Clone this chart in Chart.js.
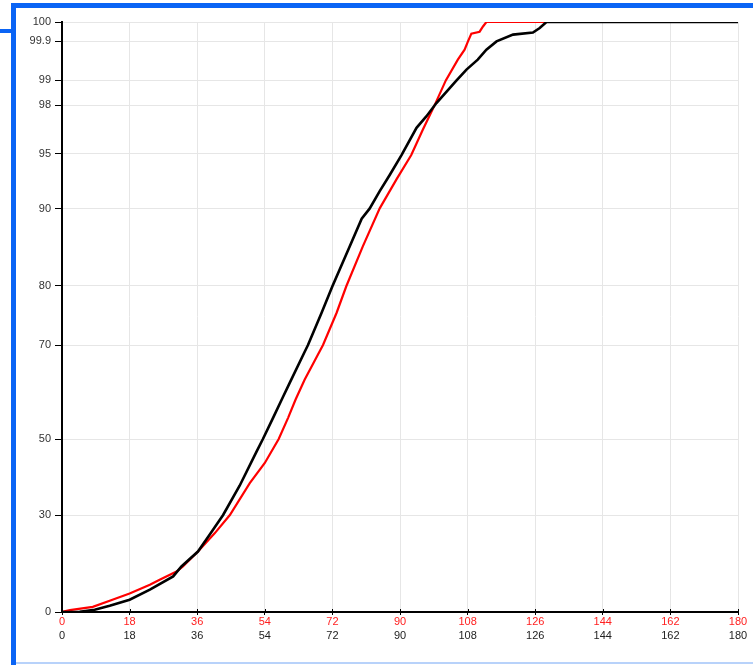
<!DOCTYPE html>
<html>
<head>
<meta charset="utf-8">
<script src="https://cdn.jsdelivr.net/npm/chart.js@4/dist/chart.umd.min.js"></script>
<style>
  html, body { margin: 0; padding: 0; background: #fff; }
  #wrap { position: relative; width: 753px; height: 665px; overflow: hidden; }
  #chart { position: absolute; left: 0; top: 0; }
  .frame { position: absolute; background: #0a64f5; }
</style>
</head>
<body>
<div id="wrap">
  <canvas id="chart" width="753" height="665"></canvas>
  <div class="frame" style="left:11px;top:3px;width:5px;height:662px;"></div>
  <div class="frame" style="left:11px;top:3px;width:742px;height:5px;"></div>
  <div class="frame" style="left:0;top:29px;width:11px;height:4px;"></div>
  <div class="frame" style="left:16px;top:662px;width:737px;height:2px;background:#b8d2fa;"></div>
</div>
<script>
// ---- data (cumulative percent vs x) ----
const xTicks = [0, 18, 36, 54, 72, 90, 108, 126, 144, 162, 180];
const yTicks = [0, 30, 50, 70, 80, 90, 95, 98, 99, 99.9, 100];

const blackX = [0, 4.7, 8.7, 12.7, 18.0, 23.4, 29.6, 31.8, 36.2, 39.3, 42.9, 47.3, 51.8, 53.5, 56.2, 58.8, 60.6, 64.4, 65.5, 69.1, 72.0, 76.6, 79.8, 81.9, 84.6, 87.3, 90.4, 94.4, 97.0, 99.7, 105.0, 107.7, 110.7, 113.0, 115.7, 120.1, 125.4, 127.2, 129.0, 180];
const blackY = [0, 0.05, 0.7, 1.9, 3.8, 6.9, 11.0, 14.1, 18.7, 23.9, 30, 37.7, 46.7, 50, 54.5, 58.9, 61.9, 68.2, 70, 75.4, 79.9, 85.1, 88.7, 90, 91.6, 93.1, 94.9, 96.6, 97.3, 98.08, 98.99, 99.25, 99.48, 99.71, 99.9, 99.935, 99.946, 99.969, 100, 100];

const redX = [0, 2.1, 8.2, 12.7, 18.0, 23.4, 26.0, 30.5, 32.2, 36.2, 40.7, 44.7, 50.0, 54.0, 57.7, 60.2, 62.2, 64.6, 69.5, 73.1, 75.7, 80.1, 84.6, 89.1, 93.0, 96.1, 99.2, 102.2, 105.4, 107.2, 108.1, 109.0, 111.2, 112.1, 113.0, 180];
const redY = [0, 0.6, 1.6, 3.5, 5.7, 8.4, 10.0, 12.5, 14.1, 18.7, 24.4, 30, 38.4, 43.7, 50, 54.5, 58.4, 62.6, 70, 75.4, 79.9, 85.1, 90.03, 92.7, 94.9, 96.5, 97.98, 99.0, 99.48, 99.71, 99.9, 99.94, 99.95, 99.977, 100, 100];

// ---- probability-style y scale: piecewise between the tick values ----
const scaleFrac = [0, 0.1644, 0.2932, 0.4525, 0.5531, 0.6836, 0.7763, 0.8593, 0.9010, 0.9671, 1];

function toFrac(v) {
    if (v <= yTicks[0]) return 0;
    for (let i = 1; i < yTicks.length; i++) {
        if (v <= yTicks[i]) {
            const t = (v - yTicks[i - 1]) / (yTicks[i] - yTicks[i - 1]);
            return scaleFrac[i - 1] + t * (scaleFrac[i] - scaleFrac[i - 1]);
        }
    }
    return 1;
}
function fromFrac(f) {
    for (let i = 1; i < scaleFrac.length; i++) {
        if (f <= scaleFrac[i]) {
            const t = (f - scaleFrac[i - 1]) / (scaleFrac[i] - scaleFrac[i - 1]);
            return yTicks[i - 1] + t * (yTicks[i] - yTicks[i - 1]);
        }
    }
    return 100;
}

class PiecewiseScale extends Chart.LinearScale {
    getPixelForValue(v) { return v === null ? NaN : this.getPixelForDecimal(toFrac(v)); }
    getValueForPixel(p) { return fromFrac(this.getDecimalForPixel(p)); }
}
PiecewiseScale.id = 'piecewise';
PiecewiseScale.defaults = Chart.LinearScale.defaults;
Chart.register(PiecewiseScale);

// x ticks cross the axis line: draw the short upper half too
const crossTicks = {
    id: 'crossTicks',
    afterDraw(chart) {
        const sx = chart.scales.x, ctx = chart.ctx, yb = chart.chartArea.bottom;
        ctx.save();
        ctx.strokeStyle = '#000';
        ctx.lineWidth = 1;
        sx.ticks.forEach(t => {
            const px = Math.round(sx.getPixelForValue(t.value)) + 0.5;
            ctx.beginPath();
            ctx.moveTo(px, yb - 3);
            ctx.lineTo(px, yb);
            ctx.stroke();
        });
        ctx.restore();
    }
};

const toPts = (xs, ys) => xs.map((x, i) => ({ x: x, y: ys[i] }));
const gridGrey = '#e6e6e6';
const FONT = 'Liberation Sans, Arial, Helvetica, sans-serif';

new Chart(document.getElementById('chart').getContext('2d'), {
    type: 'line',
    data: {
        datasets: [
            {
                data: toPts(blackX, blackY),
                borderColor: '#000',
                borderWidth: 2.6,
                pointRadius: 0,
                tension: 0
            },
            {
                data: toPts(redX, redY),
                borderColor: '#ff0000',
                borderWidth: 2.2,
                pointRadius: 0,
                tension: 0
            }
        ]
    },
    options: {
        responsive: false,
        animation: false,
        layout: { padding: { left: 0, top: 22, right: 15, bottom: 22 } },
        plugins: { legend: { display: false }, tooltip: { enabled: false } },
        scales: {
            x: {
                type: 'linear',
                position: 'bottom',
                min: 0, max: 180,
                afterBuildTicks: s => { s.ticks = xTicks.map(v => ({ value: v })); },
                afterFit: s => { s.height = 16; },
                grid: { color: gridGrey, tickColor: '#000', tickLength: 3, lineWidth: 1 },
                border: { color: '#000', width: 2 },
                ticks: { color: '#ff2020', padding: 0, maxRotation: 0, autoSkip: false, font: { family: FONT, size: 11 } }
            },
            x2: {
                type: 'linear',
                position: 'bottom',
                min: 0, max: 180,
                afterBuildTicks: s => { s.ticks = xTicks.map(v => ({ value: v })); },
                afterFit: s => { s.height = 15; },
                grid: { display: false, drawTicks: false },
                border: { display: false },
                ticks: { color: '#222', padding: 1, maxRotation: 0, autoSkip: false, font: { family: FONT, size: 11 } }
            },
            y: {
                type: 'piecewise',
                min: 0, max: 100,
                afterBuildTicks: s => { s.ticks = yTicks.map(v => ({ value: v })); },
                afterFit: s => { s.width = 62; },
                grid: { color: gridGrey, tickColor: '#000', tickLength: 7, lineWidth: 1 },
                border: { color: '#000', width: 2 },
                ticks: { color: '#333', padding: 4, autoSkip: false, callback: v => String(v), font: { family: FONT, size: 11 } }
            }
        }
    },
    plugins: [crossTicks]
});
</script>
</body>
</html>
